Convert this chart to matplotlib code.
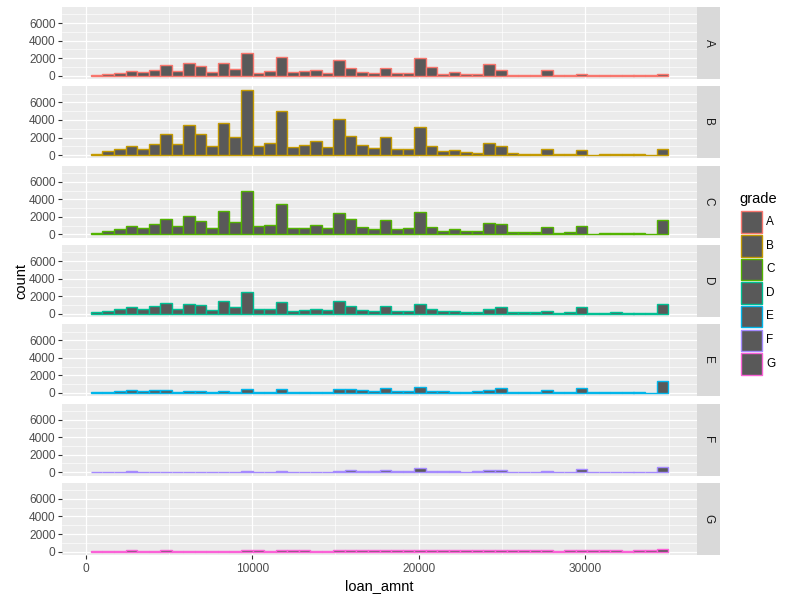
import numpy as np
import matplotlib
matplotlib.use("Agg")
import matplotlib.pyplot as plt
from matplotlib.patches import Rectangle

plt.rcParams['font.family'] = ['Liberation Sans', 'DejaVu Sans']

# histogram bins of loan_amnt (50 bins)
bin_edges = np.linspace(320, 34975, 51)

grades = ["A", "B", "C", "D", "E", "F", "G"]
grade_colors = ["#F8766D", "#C49A00", "#53B400", "#00C094", "#00B6EB", "#A58AFF", "#FB61D7"]

count_a = [50, 230, 340, 570, 415, 680, 1250, 570, 1470, 1130, 450, 1470, 790, 2620, 340, 570, 2150,
           450, 570, 680, 340, 1810, 900, 450, 340, 900, 340, 340, 2040, 1020, 230, 450, 230, 230,
           1360, 680, 60, 60, 60, 680, 60, 60, 230, 60, 60, 60, 60, 60, 60, 230]
count_b = [150, 415, 720, 1020, 720, 1280, 2415, 1280, 3430, 2415, 1020, 3660, 2075, 7470, 1020, 1400,
           5020, 905, 1170, 1620, 905, 4110, 2150, 1130, 790, 2075, 680, 680, 3170, 1020, 490, 600,
           380, 230, 1400, 1020, 265, 150, 150, 720, 150, 150, 600, 20, 150, 150, 150, 150, 20, 720]
count_c = [150, 380, 580, 920, 690, 1150, 1730, 920, 2080, 1500, 690, 2650, 1380, 4960, 920, 1040, 3460,
           690, 690, 1040, 690, 2420, 1730, 810, 580, 1620, 580, 690, 2540, 810, 350, 580, 350, 350,
           1270, 1150, 230, 230, 230, 810, 120, 230, 920, 10, 120, 120, 120, 120, 10, 1620]
count_d = [230, 340, 570, 800, 570, 910, 1250, 570, 1140, 1030, 460, 1480, 800, 2510, 570, 570, 1370,
           340, 460, 570, 460, 1480, 910, 460, 340, 910, 340, 340, 1140, 570, 340, 340, 230, 230,
           570, 800, 230, 230, 230, 340, 110, 230, 800, 110, 110, 230, 110, 110, 110, 1140]
count_e = [70, 70, 230, 340, 230, 340, 340, 70, 230, 230, 70, 230, 70, 450, 70, 70, 450, 70, 70, 70,
           70, 450, 450, 340, 230, 570, 230, 230, 680, 230, 230, 70, 70, 230, 340, 570, 70, 70, 70,
           340, 70, 70, 570, 70, 70, 70, 70, 70, 10, 1380]
count_f = [30, 30, 30, 150, 30, 30, 30, 30, 30, 30, 30, 30, 30, 150, 30, 30, 150, 30, 30, 30, 30, 150,
           260, 150, 150, 260, 150, 150, 490, 150, 150, 150, 30, 150, 260, 260, 30, 30, 30, 150, 30,
           30, 380, 30, 30, 30, 30, 30, 30, 620]
count_g = [30, 30, 30, 150, 30, 30, 150, 30, 30, 30, 30, 30, 30, 150, 150, 30, 150, 150, 150, 30, 30,
           150, 150, 150, 150, 150, 150, 150, 150, 150, 150, 150, 150, 150, 150, 150, 150, 150, 150,
           150, 30, 150, 150, 150, 150, 150, 30, 150, 150, 260]
counts = [count_a, count_b, count_c, count_d, count_e, count_f, count_g]

x_ticks = [0, 10000, 20000, 30000]
y_ticks = [0, 2000, 4000, 6000]

W, H = 800, 600


def px_rect(x0, y0, x1, y1):
    return [x0 / W, 1 - y1 / H, (x1 - x0) / W, (y1 - y0) / H]


fig = plt.figure(figsize=(8, 6), dpi=100)

ymax = max(max(c) for c in counts)
span = bin_edges[-1] - bin_edges[0]
xlim = (bin_edges[0] - 0.05 * span, bin_edges[-1] + 0.05 * span)
ylim = (-0.05 * ymax, 1.05 * ymax)

left, right = 62, 697
for i, (g, col, cnt) in enumerate(zip(grades, grade_colors, counts)):
    top = 7 + i * 79.3
    bottom = top + 72
    ax = fig.add_axes(px_rect(left, top, right, bottom))
    ax.set_facecolor("#EBEBEB")
    ax.bar(bin_edges[:-1], cnt, width=np.diff(bin_edges), align="edge",
           color="#595959", edgecolor=col, linewidth=1.0, zorder=3)
    ax.set_xlim(xlim)
    ax.set_ylim(ylim)
    ax.set_xticks(x_ticks)
    ax.set_xticks([5000, 15000, 25000, 35000], minor=True)
    ax.set_yticks(y_ticks)
    ax.set_yticks([1000, 3000, 5000, 7000], minor=True)
    ax.set_axisbelow(True)
    ax.grid(which="major", color="white", linewidth=0.9)
    ax.grid(which="minor", color="white", linewidth=0.45)
    for s in ax.spines.values():
        s.set_visible(False)
    ax.tick_params(which="major", length=2.7, width=0.8, color="#333333",
                   labelcolor="#4D4D4D", labelsize=8.6, pad=2)
    ax.tick_params(axis="x", pad=3.5)
    ax.tick_params(which="minor", length=0)
    if i < len(grades) - 1:
        ax.tick_params(axis="x", labelbottom=False, length=0)

    # facet strip
    sx = fig.add_axes(px_rect(right, top, 720, bottom))
    sx.set_facecolor("#D9D9D9")
    sx.set_xticks([])
    sx.set_yticks([])
    for s in sx.spines.values():
        s.set_visible(False)
    sx.text(0.5, 0.5, g, rotation=-90, ha="center", va="center",
            color="#1A1A1A", fontsize=8.5, transform=sx.transAxes)

fig.text((left + right) / 2 / W, 1 - 586 / H, "loan_amnt", ha="center", va="center", fontsize=10.5)
fig.text(21 / W, 1 - 281 / H, "count", ha="center", va="center", rotation=90, fontsize=10.5)

# legend
fig.text(739 / W, 1 - 199 / H, "grade", ha="left", va="center", fontsize=10.5)
for j, (g, col) in enumerate(zip(grades, grade_colors)):
    ky = 211 + j * 23.6
    fig.add_artist(Rectangle((741 / W, 1 - (ky + 22) / H), 21 / W, 21.5 / H,
                             transform=fig.transFigure, facecolor="#595959",
                             edgecolor=col, linewidth=1.0))
    fig.text(766 / W, 1 - (ky + 11) / H, g, ha="left", va="center", fontsize=8.5)

fig.savefig("out.png", dpi=100)
